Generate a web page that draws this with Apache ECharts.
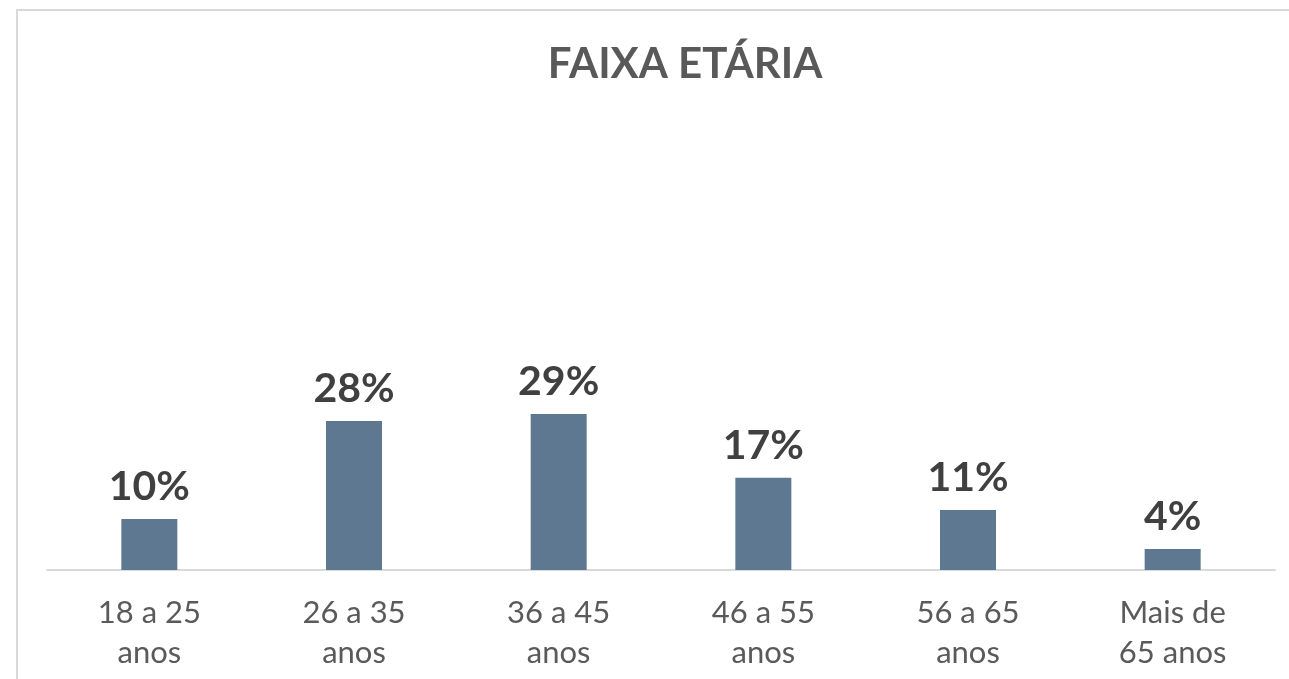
<!DOCTYPE html>
<html>
<head>
<meta charset="utf-8">
<script src="https://cdn.jsdelivr.net/npm/echarts@6/dist/echarts.min.js"></script>
<style>
  html, body { margin: 0; padding: 0; background: #fff; }
  #chart { width: 1289px; height: 679px; }
</style>
</head>
<body>
<div id="chart"></div>
<script>
// faixa etária
const categories = ["18 a 25\nanos", "26 a 35\nanos", "36 a 45\nanos", "46 a 55\nanos", "56 a 65\nanos", "Mais de\n65 anos"];
const values = [9.5, 27.8, 29.1, 17.2, 11.2, 3.9];

const myChart = echarts.init(document.getElementById("chart"));
const option = {
  backgroundColor: "#ffffff",
  animation: false,
  title: {
    text: "FAIXA ETÁRIA",
    left: 680,
    top: 38,
    textAlign: "center",
    textStyle: {
      fontFamily: "Lato",
      fontSize: 42,
      fontWeight: "bold",
      color: "#595959",
    },
  },
  graphic: [
    {
      type: "rect",
      silent: true,
      shape: { x: 17, y: 10, width: 1300, height: 720 },
      style: { fill: "none", stroke: "#d9d9d9", lineWidth: 2 },
    },
  ],
  grid: { left: 47, right: 14, top: 34, bottom: 109 },
  xAxis: {
    type: "category",
    data: categories,
    axisLine: { lineStyle: { color: "#d9d9d9", width: 2 } },
    axisTick: { show: false },
    axisLabel: {
      margin: 23,
      fontFamily: "Lato",
      fontSize: 31,
      lineHeight: 40,
      color: "#5a5a5a",
      interval: 0,
    },
  },
  yAxis: {
    type: "value",
    min: 0,
    max: 100,
    show: false,
    splitLine: { show: false },
  },
  series: [
    {
      type: "bar",
      data: values,
      barWidth: 56,
      itemStyle: { color: "#5f7891" },
      label: {
        show: true,
        position: "top",
        distance: 12,
        fontFamily: "Lato",
        fontSize: 41,
        fontWeight: "bold",
        color: "#404040",
        formatter: function (p) {
          return Math.round(p.value) + "%";
        },
      },
    },
  ],
};
myChart.setOption(option);
</script>
</body>
</html>
